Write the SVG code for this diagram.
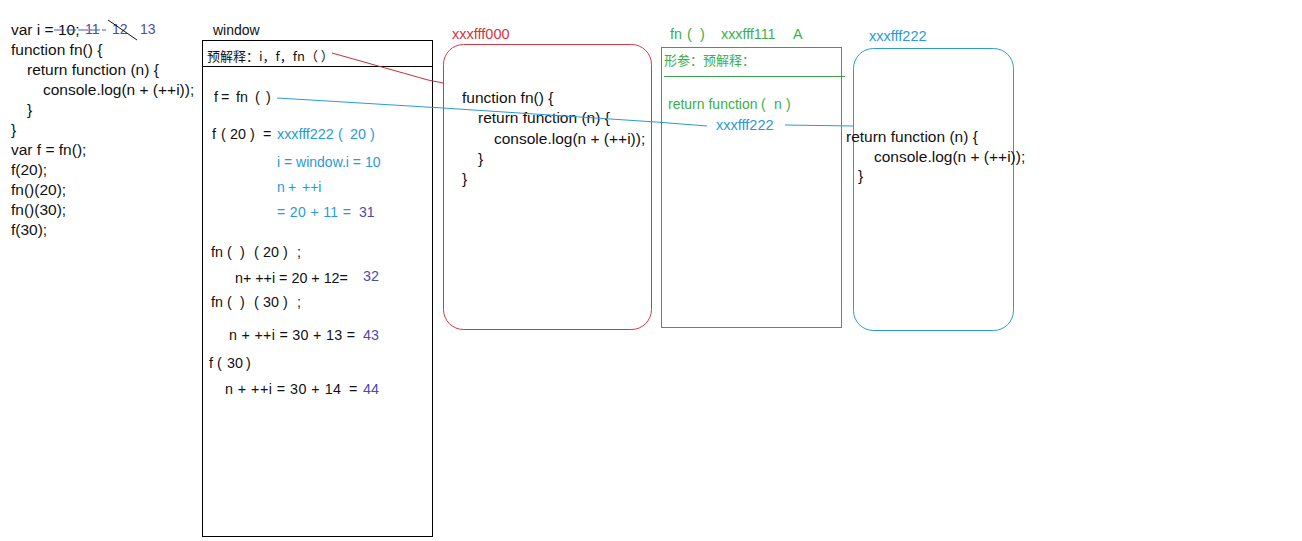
<svg xmlns="http://www.w3.org/2000/svg" width="1302" height="541" viewBox="0 0 1302 541">
<style>
text{font-family:"Liberation Sans","Noto Sans CJK SC",sans-serif;font-size:14px;fill:#111}
.code{font-size:15.5px}
.w{font-size:14.3px}
.lbl{font-size:14.5px}
.cjk{font-family:"Noto Sans CJK SC","Liberation Sans",sans-serif;font-size:13px}
.blue{fill:#2a9ad6}
.pur{fill:#4b4bb0}
.red{fill:#d7343e}
.grn{fill:#3aae4a}
</style>
<rect width="1302" height="541" fill="#fff"/>
<g id="code">
<text x="11" y="35" class="code">var i = 10;</text>
<text x="85" y="34" class="pur">11</text>
<text x="112" y="34" class="pur">12</text>
<text x="140" y="34" class="pur">13</text>
<line x1="54" y1="30" x2="106" y2="30" stroke="#4a5aa0" stroke-width="1" stroke-dasharray="10 2"/>
<line x1="108" y1="20" x2="137" y2="40" stroke="#111" stroke-width="1"/>
<text x="11" y="55" class="code">function fn() {</text>
<text x="27" y="75" class="code">return function (n) {</text>
<text x="43" y="95" class="code">console.log(n + (++i));</text>
<text x="27" y="115" class="code">}</text>
<text x="11" y="135" class="code">}</text>
<text x="11" y="155" class="code">var f = fn();</text>
<text x="11" y="175" class="code">f(20);</text>
<text x="11" y="195" class="code">fn()(20);</text>
<text x="11" y="215" class="code">fn()(30);</text>
<text x="11" y="235" class="code">f(30);</text>
</g>
<g id="window">
<text x="213" y="35" font-size="13.8">window</text>
<rect x="202.5" y="40.5" width="230" height="496" fill="none" stroke="#000"/>
<line x1="202" y1="66.5" x2="432" y2="66.5" stroke="#000"/>
<text x="207" y="61" class="cjk">预解释：i，f，fn（ ）</text>
<text y="102" class="w"><tspan x="214">f</tspan><tspan x="221">=</tspan><tspan x="236">fn</tspan><tspan x="255">(</tspan><tspan x="266">)</tspan></text>
<text y="139" class="w"><tspan x="212">f</tspan><tspan x="221">(</tspan><tspan x="230">20</tspan><tspan x="250">)</tspan><tspan x="263">=</tspan></text>
<text y="139" class="blue w"><tspan x="277">xxxfff222</tspan><tspan x="338">(</tspan><tspan x="350">20</tspan><tspan x="370">)</tspan></text>
<text x="277" y="167" class="blue" font-size="13.3">i = window.i = 10</text>
<text y="192" class="blue" font-size="13.3"><tspan x="277">n</tspan><tspan x="288">+</tspan><tspan x="302">++i</tspan></text>
<text y="217" class="blue" font-size="13.3"><tspan x="277" textLength="74" lengthAdjust="spacing">= 20 + 11 =</tspan><tspan x="359" class="pur">31</tspan></text>
<text y="257" class="w"><tspan x="211">fn</tspan><tspan x="227">(</tspan><tspan x="240">)</tspan><tspan x="254">(</tspan><tspan x="263">20</tspan><tspan x="283">)</tspan><tspan x="297">;</tspan></text>
<text x="235" y="283" class="w">n+ ++i = 20 + 12=</text>
<text x="363" y="281" class="pur w">32</text>
<text y="307" class="w"><tspan x="211">fn</tspan><tspan x="227">(</tspan><tspan x="240">)</tspan><tspan x="254">(</tspan><tspan x="263">30</tspan><tspan x="283">)</tspan><tspan x="297">;</tspan></text>
<text x="229" y="340" class="w" textLength="126" lengthAdjust="spacing">n + ++i = 30 + 13 =</text>
<text x="363" y="340" class="pur w">43</text>
<text y="368" class="w"><tspan x="209">f</tspan><tspan x="217">(</tspan><tspan x="227">30</tspan><tspan x="246">)</tspan></text>
<text x="225" y="394" class="w" textLength="116" lengthAdjust="spacing">n + ++i = 30 + 14</text>
<text x="349" y="394" class="w">=</text>
<text x="363" y="394" class="pur w">44</text>
</g>
<g id="fn-heap">
<text x="452" y="39" class="red lbl">xxxfff000</text>
<rect x="443.5" y="44.5" width="208" height="285" rx="20" fill="none" stroke="#d03a44"/>
<text x="462" y="103" class="code">function fn() {</text>
<text x="478" y="123" class="code">return function (n) {</text>
<text x="494" y="144" class="code">console.log(n + (++i));</text>
<text x="478" y="164" class="code">}</text>
<text x="462" y="184" class="code">}</text>
</g>
<g id="fn-scope">
<text y="39" class="grn w"><tspan x="670">fn</tspan><tspan x="687">(</tspan><tspan x="700">)</tspan><tspan x="721">xxxfff111</tspan><tspan x="793">A</tspan></text>
<rect x="661.5" y="47.5" width="180" height="280" fill="none" stroke="#3aa04a"/>
<text x="664" y="65" class="cjk grn" font-size="13.2">形参：预解释：</text>
<line x1="664" y1="76.5" x2="845" y2="76.5" stroke="#3aa04a"/>
<text y="109" class="grn" font-size="13.6"><tspan x="668">return function</tspan><tspan x="761">(</tspan><tspan x="774">n</tspan><tspan x="786">)</tspan></text>
<text x="716" y="130" class="blue lbl">xxxfff222</text>
</g>
<g id="inner-heap">
<text x="869" y="41" class="blue lbl">xxxfff222</text>
<rect x="853.5" y="48.5" width="160" height="282" rx="20" fill="none" stroke="#2a9ad6"/>
<text x="846" y="142" class="code">return function (n) {</text>
<text x="874" y="162" class="code">console.log(n + (++i));</text>
<text x="858" y="181" class="code">}</text>
</g>
<g id="connectors" fill="none">
<polyline points="332,53 428,80 443,83" stroke="#c0303a"/>
<polyline points="277,98 443,108 656,122 707,126" stroke="#2a9ad6"/>
<polyline points="785,125 853,126" stroke="#2a9ad6"/>
</g>
</svg>
